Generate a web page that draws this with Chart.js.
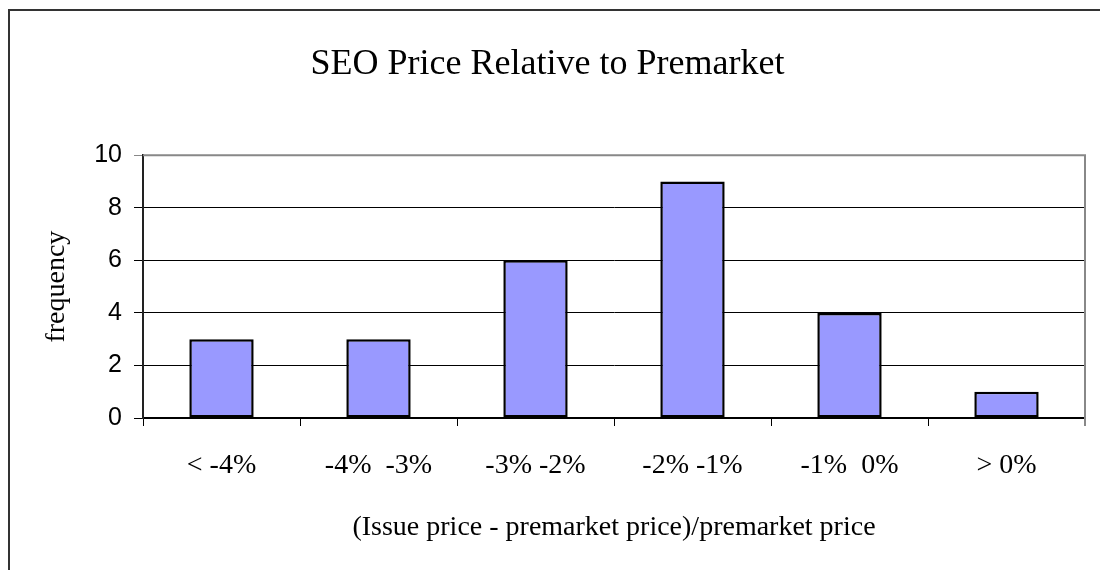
<!DOCTYPE html>
<html>
<head>
<meta charset="utf-8">
<script src="https://cdn.jsdelivr.net/npm/chart.js@4.4.0/dist/chart.umd.min.js"></script>
<style>
    html, body { margin: 0; padding: 0; background: #fff; }
    #wrap { position: relative; width: 1100px; height: 570px; }
</style>
</head>
<body>
<div id="wrap"><canvas id="chart" width="1100" height="570"></canvas></div>
<script>
// dados do gráfico
const categorias = ['< -4%', '-4%  -3%', '-3% -2%', '-2% -1%', '-1%  0%', '> 0%'];
const frequencias = [3, 3, 6, 9, 4, 1];
const yTicks = [0, 2, 4, 6, 8, 10];

// moldura externa + borda da área do gráfico
const molduraPlugin = {
    id: 'moldura',
    afterDraw(chart) {
        const ctx = chart.ctx;
        const a = chart.chartArea;
        ctx.save();
        ctx.strokeStyle = '#333';
        ctx.lineWidth = 2;
        ctx.strokeRect(9, 10, 1200, 700);
        ctx.strokeStyle = '#888';
        ctx.lineWidth = 2;
        ctx.beginPath();
        ctx.moveTo(a.left, a.top);
        ctx.lineTo(a.right, a.top);
        ctx.lineTo(a.right, a.bottom + 8);
        ctx.stroke();
        ctx.restore();
    }
};

new Chart(document.getElementById('chart').getContext('2d'), {
    type: 'bar',
    data: {
        labels: categorias,
        datasets: [{
            data: frequencias,
            backgroundColor: '#9999FF',
            borderColor: '#000',
            borderWidth: 2.5,
            borderSkipped: false,
            barPercentage: 0.41,
            categoryPercentage: 1
        }]
    },
    options: {
        responsive: false,
        animation: false,
        layout: { padding: { left: 10, right: 15, top: 0, bottom: 0 } },
        plugins: {
            legend: { display: false },
            tooltip: { enabled: false },
            title: {
                display: true,
                text: 'SEO Price Relative to Premarket',
                color: '#000',
                font: { family: 'Liberation Serif', size: 36, weight: 'normal' },
                padding: { top: 43, bottom: 69 }
            }
        },
        scales: {
            x: {
                afterFit(scale) { scale.height = 152; },
                grid: { drawOnChartArea: false, drawTicks: true, tickLength: 8, color: '#000', lineWidth: 1 },
                border: { color: '#000', width: 2 },
                ticks: {
                    color: '#000',
                    padding: 23,
                    maxRotation: 0,
                    font: { family: 'Liberation Serif', size: 28 }
                },
                title: {
                    display: true,
                    text: '(Issue price - premarket price)/premarket price',
                    color: '#000',
                    font: { family: 'Liberation Serif', size: 28 },
                    padding: { top: 0, bottom: 26 }
                }
            },
            y: {
                min: 0,
                max: 10,
                afterFit(scale) { scale.width = 133; },
                afterBuildTicks(scale) { scale.ticks = yTicks.map(v => ({ value: v })); },
                grid: {
                    color: ctx => (ctx.tick && ctx.tick.value === 10) ? '#888' : '#000',
                    lineWidth: 1,
                    tickLength: 9
                },
                border: { color: '#222', width: 2 },
                ticks: {
                    color: '#000',
                    padding: 12,
                    font: { family: 'Liberation Sans', size: 25 }
                },
                title: {
                    display: true,
                    text: 'frequency',
                    color: '#000',
                    font: { family: 'Liberation Serif', size: 28 },
                    padding: { top: 30, bottom: 0 }
                }
            }
        }
    },
    plugins: [molduraPlugin]
});
</script>
</body>
</html>
